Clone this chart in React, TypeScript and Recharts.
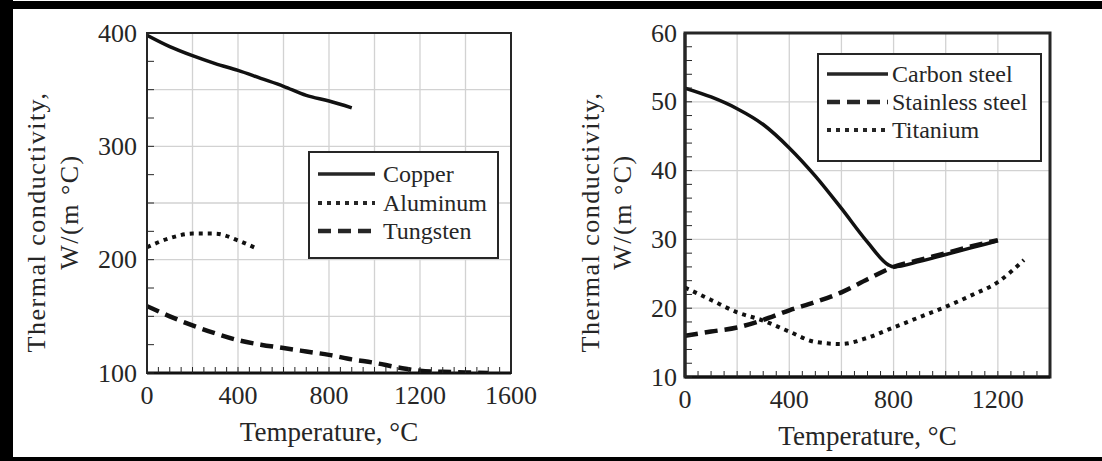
import {
  LineChart,
  Line,
  XAxis,
  YAxis,
  CartesianGrid,
  ReferenceArea,
  Legend,
} from "recharts";

const FONT = '"Liberation Serif", "Times New Roman", serif';
const INK = "#262626";

// --- left panel: copper, aluminum, tungsten ---
const copperTemp = [0, 100, 200, 300, 400, 500, 600, 700, 800, 900];
const copperK = [398, 388, 380, 373, 367, 360, 353, 345, 340, 334];
const aluminumTemp = [0, 100, 200, 300, 400, 480];
const aluminumK = [211, 219, 223, 223, 217, 210];
const tungstenTemp = [0, 100, 200, 300, 400, 500, 600, 700, 800, 900, 1000, 1100, 1200, 1300, 1400, 1500];
const tungstenK = [159, 150, 142, 135, 129, 125, 122, 119, 116, 112, 109, 105, 102, 101, 100.5, 100];

// --- right panel: steels, titanium ---
const carbonTemp = [0, 100, 200, 300, 400, 500, 600, 700, 780, 800, 900, 1000, 1100, 1200];
const carbonK = [52, 50.7, 49, 46.7, 43.3, 39.2, 34.5, 29.6, 26.3, 26, 26.8, 27.8, 28.8, 29.8];
const stainlessTemp = [0, 100, 200, 300, 400, 500, 600, 700, 800, 900, 1000, 1100, 1200];
const stainlessK = [16, 16.6, 17.2, 18.3, 19.7, 20.9, 22.3, 24.2, 26, 27, 28, 29, 29.9];
const titaniumTemp = [0, 100, 200, 300, 400, 500, 600, 700, 800, 900, 1000, 1100, 1200, 1300];
const titaniumK = [23, 21.2, 19.4, 18.2, 16.6, 15.1, 14.8, 15.7, 17.2, 18.7, 20.2, 21.9, 23.8, 27];

const leftNames = ["Copper", "Aluminum", "Tungsten"];
const rightNames = ["Carbon steel", "Stainless steel", "Titanium"];

const leftXLabels = [0, 400, 800, 1200, 1600];
const leftYLabels = [100, 200, 300, 400];
const rightXLabels = [0, 400, 800, 1200];
const rightYLabels = [10, 20, 30, 40, 50, 60];

const leftGridX = [200, 400, 600, 800, 1000, 1200, 1400];
const leftGridY = [150, 200, 250, 300, 350];
const rightGridX = [200, 400, 600, 800, 1000, 1200];
const rightGridY = [20, 30, 40, 50];

const SOLID = { strokeWidth: 3.5, strokeDasharray: undefined as string | undefined };
const DOTTED = { strokeWidth: 4, strokeDasharray: "4 5" };
const DASHED = { strokeWidth: 4.5, strokeDasharray: "13 7" };

const pairs = (xs: number[], ys: number[]) => xs.map((t, i) => ({ t, k: ys[i] }));
const steps = (from: number, to: number, step: number) => {
  const out: number[] = [];
  for (let v = from; v <= to + 1e-9; v += step) out.push(Math.round(v * 100) / 100);
  return out;
};

function makeXTick(labels: number[]) {
  return (p: any) => {
    const { x, y, payload } = p;
    return (
      <g>
        <line x1={x} x2={x} y1={y} y2={y - 6} stroke={INK} strokeWidth={1} />
        {labels.includes(payload.value) && (
          <text x={x} y={y + 22} textAnchor="middle" dominantBaseline="central" fontSize={26} fontFamily={FONT} fill={INK}>
            {payload.value}
          </text>
        )}
      </g>
    );
  };
}

function makeYTick(labels: number[], gap: number) {
  return (p: any) => {
    const { x, y, payload } = p;
    return (
      <g>
        <line x1={x} x2={x + 7} y1={y} y2={y} stroke={INK} strokeWidth={1} />
        {labels.includes(payload.value) && (
          <text x={x - gap} y={y} textAnchor="end" dominantBaseline="central" fontSize={26} fontFamily={FONT} fill={INK}>
            {payload.value}
          </text>
        )}
      </g>
    );
  };
}

function BoxLegend({ names, styles, sample, gap, pad, rowH }: any) {
  return (
    <div
      style={{
        width: "100%",
        height: "100%",
        boxSizing: "border-box",
        border: `2.5px solid ${INK}`,
        background: "#fff",
        padding: `${pad[0]}px 0 0 ${pad[1]}px`,
      }}
    >
      {names.map((n: string, i: number) => (
        <div key={n} style={{ display: "flex", alignItems: "center", height: rowH }}>
          <svg width={sample} height={8}>
            <line x1={0} y1={4} x2={sample} y2={4} stroke={INK} strokeWidth={styles[i].strokeWidth} strokeDasharray={styles[i].strokeDasharray} />
          </svg>
          <span style={{ marginLeft: gap, fontFamily: FONT, fontSize: 24, color: INK, lineHeight: 1, whiteSpace: "nowrap" }}>{n}</span>
        </div>
      ))}
    </div>
  );
}

function Panel(props: any) {
  const { left, margin, xMax, yDomain, xLabels, yLabels, xMinor, yMinor, gridX, gridY, series, legend, titleX, titleCy, border, yGap } = props;
  return (
    <div style={{ position: "absolute", left, top: 0 }}>
      <LineChart width={551} height={461} margin={margin}>
        <CartesianGrid stroke="#d2d2d2" strokeWidth={1.3} horizontalValues={gridY} verticalValues={gridX} />
        <XAxis
          dataKey="t"
          type="number"
          domain={[0, xMax]}
          allowDataOverflow
          ticks={steps(0, xMax, xMinor)}
          interval={0}
          tickSize={0}
          tickMargin={0}
          tickLine={false}
          height={80}
          axisLine={{ stroke: "#111", strokeWidth: 3 }}
          tick={makeXTick(xLabels)}
          label={{
            content: (lp: any) => {
              const vb = lp.viewBox;
              return (
                <text x={vb.x + vb.width / 2} y={vb.y + 59} textAnchor="middle" dominantBaseline="central" fontSize={27} fontFamily={FONT} fill={INK}>
                  Temperature, °C
                </text>
              );
            },
          }}
        />
        <YAxis
          type="number"
          domain={yDomain}
          allowDataOverflow
          ticks={steps(yDomain[0], yDomain[1], yMinor)}
          interval={0}
          tickSize={0}
          tickMargin={0}
          tickLine={false}
          width={80}
          axisLine={{ stroke: INK, strokeWidth: border }}
          tick={makeYTick(yLabels, yGap)}
          label={{
            content: () => (
              <g fontFamily={FONT} fontSize={26} fill={INK} textAnchor="middle">
                <text transform={`translate(${titleX[0]},${titleCy[0]}) rotate(-90)`} dominantBaseline="central" letterSpacing={1.5}>
                  Thermal conductivity,
                </text>
                <text transform={`translate(${titleX[1]},${titleCy[1]}) rotate(-90)`} dominantBaseline="central" letterSpacing={1.5}>
                  W/(m °C)
                </text>
              </g>
            ),
          }}
        />
        <ReferenceArea x1={0} x2={xMax} y1={yDomain[0]} y2={yDomain[1]} fill="none" stroke={INK} strokeWidth={border} />
        {series.map((s: any) => (
          <Line
            key={s.name}
            data={s.data}
            dataKey="k"
            name={s.name}
            type="monotone"
            stroke="#111"
            strokeWidth={s.style.strokeWidth}
            strokeDasharray={s.style.strokeDasharray}
            dot={false}
            activeDot={false}
            isAnimationActive={false}
          />
        ))}
        <Legend
          layout="horizontal"
          verticalAlign="middle"
          align="center"
          wrapperStyle={{ left: legend.box[0], top: legend.box[1], width: legend.box[2], height: legend.box[3] }}
          content={() => (
            <BoxLegend
              names={series.map((s: any) => s.name)}
              styles={series.map((s: any) => s.style)}
              sample={legend.sample}
              gap={legend.gap}
              pad={legend.pad}
              rowH={legend.rowH}
            />
          )}
        />
      </LineChart>
    </div>
  );
}

export default function App() {
  const leftSeries = [
    { name: leftNames[0], data: pairs(copperTemp, copperK), style: SOLID },
    { name: leftNames[1], data: pairs(aluminumTemp, aluminumK), style: DOTTED },
    { name: leftNames[2], data: pairs(tungstenTemp, tungstenK), style: DASHED },
  ];
  const rightSeries = [
    { name: rightNames[0], data: pairs(carbonTemp, carbonK), style: SOLID },
    { name: rightNames[1], data: pairs(stainlessTemp, stainlessK), style: DASHED },
    { name: rightNames[2], data: pairs(titaniumTemp, titaniumK), style: DOTTED },
  ];

  return (
    <div style={{ position: "absolute", left: 0, top: 0, width: 1102, height: 461, background: "#fff", overflow: "hidden" }}>
      <Panel
        left={0}
        margin={{ top: 33, right: 40, bottom: 8, left: 67 }}
        xMax={1600}
        yDomain={[100, 400]}
        xLabels={leftXLabels}
        yLabels={leftYLabels}
        xMinor={50}
        yMinor={25}
        gridX={leftGridX}
        gridY={leftGridY}
        series={leftSeries}
        legend={{ box: [308, 151, 191, 108], sample: 57, gap: 8, pad: [7, 8], rowH: 28.5 }}
        titleX={[36, 69]}
        titleCy={[222, 212]}
        border={2}
        yGap={10}
      />
      <Panel
        left={551}
        margin={{ top: 33, right: 52, bottom: 4, left: 54 }}
        xMax={1400}
        yDomain={[10, 60]}
        xLabels={rightXLabels}
        yLabels={rightYLabels}
        xMinor={50}
        yMinor={2}
        gridX={rightGridX}
        gridY={rightGridY}
        series={rightSeries}
        legend={{ box: [266, 53, 225, 109], sample: 61, gap: 4, pad: [5, 8], rowH: 28 }}
        titleX={[39, 71]}
        titleCy={[222, 212]}
        border={3}
        yGap={8}
      />
      {/* scanned page frame */}
      <div style={{ position: "absolute", left: 0, top: 1, width: 1102, height: 8, background: "#000" }} />
      <div style={{ position: "absolute", left: 0, top: 0, width: 13, height: 461, background: "#000" }} />
      <div style={{ position: "absolute", left: 0, top: 457, width: 1102, height: 4, background: "#000" }} />
    </div>
  );
}
